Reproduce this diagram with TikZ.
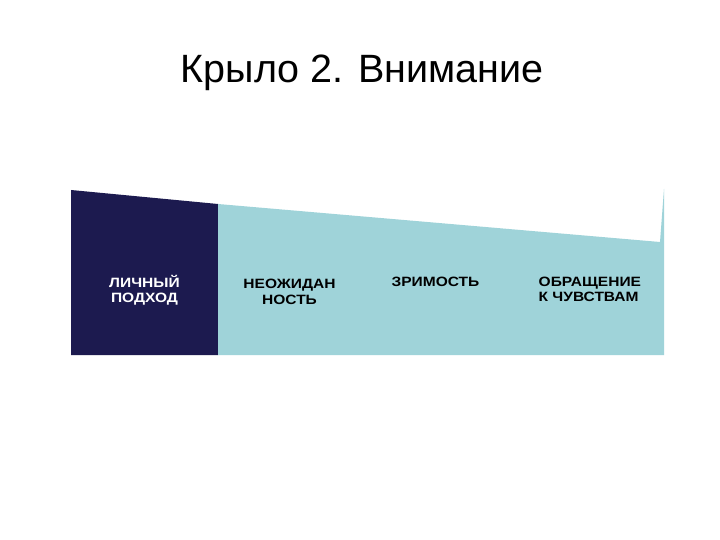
\documentclass[tikz,border=0pt]{standalone}
\usepackage{fontspec}
\setmainfont{Liberation Sans}
\newfontfamily\labelfont[FakeStretch=1.15]{Liberation Sans Bold}
\definecolor{navy}{HTML}{1C1A4F}
\definecolor{paleblue}{HTML}{9FD3D9}
\begin{document}
\begin{tikzpicture}[x=1pt,y=-1pt,
  lbl/.style={font=\labelfont\fontsize{13.5}{15.5}\selectfont, align=center, inner sep=0pt, anchor=base},
  lbll/.style={font=\labelfont\fontsize{13.5}{15.5}\selectfont, align=left, inner sep=0pt, anchor=base west}]
\useasboundingbox (0,0) rectangle (720,540);
\fill[white] (0,0) rectangle (720,540);
\node[font=\fontsize{39.5}{44}\selectfont, inner sep=0pt, anchor=base] (title) at (362,82.5) {Крыло 2. Внимание};
\fill[navy] (71,190) -- (218,204) -- (218,355) -- (71,355) -- cycle;
\fill[paleblue] (218,204) -- (660,242) -- (664,189) -- (664,355) -- (218,355) -- cycle;
\node[lbl, text=white] (a) at (144.5,302.5) {ЛИЧНЫЙ\\ПОДХОД};
\node[lbl] (b) at (289.5,304) {НЕОЖИДАН\\НОСТЬ};
\node[lbl] (c) at (435.5,286) {ЗРИМОСТЬ};
\node[lbll] (d) at (538.5,301.7) {ОБРАЩЕНИЕ\\К ЧУВСТВАМ};
\end{tikzpicture}
\end{document}
